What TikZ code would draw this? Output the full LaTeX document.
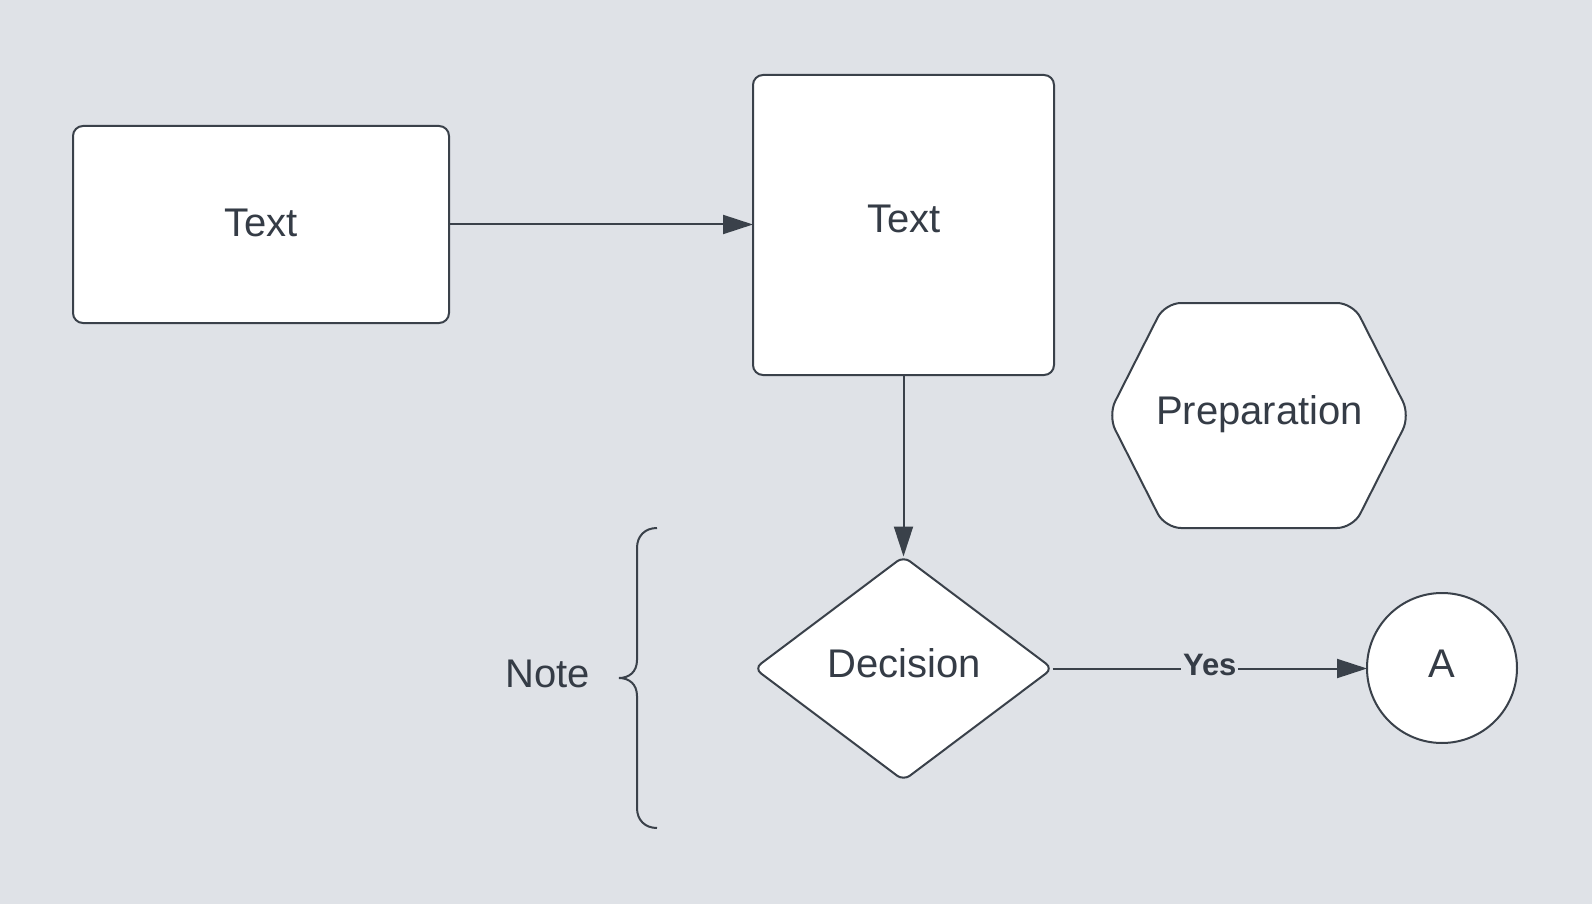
\documentclass[tikz,border=0pt]{standalone}
\usepackage{fontspec}
\setmainfont{Liberation Sans}
\usetikzlibrary{shapes.geometric,arrows.meta}
\definecolor{bg}{HTML}{DFE2E7}
\definecolor{ink}{HTML}{3A414A}
\definecolor{txt}{HTML}{353C46}
\begin{document}
\begin{tikzpicture}[x=0.5pt,y=-0.5pt,
  shapebox/.style={draw=ink,fill=white,line width=1pt,rounded corners=5pt,inner sep=0pt,outer sep=0pt},
  lbl/.style={anchor=base,inner sep=0pt,text=txt,font=\fontsize{20pt}{24pt}\selectfont},
  conn/.style={draw=ink,line width=1pt,-{Triangle[length=15pt,width=9.5pt]}}
]
\fill[bg] (0,0) rectangle (1592,904);
\useasboundingbox (0,0) rectangle (1592,904);

% shapes
\node[shapebox,minimum width=188pt,minimum height=98.5pt] (b1) at (261,224.5) {};
\node[shapebox,minimum width=150.5pt,minimum height=150pt] (b2) at (903.5,225) {};
\node[shapebox,diamond,rounded corners=4pt,minimum width=149pt,minimum height=112pt] (d) at (903.5,668.5) {};
\node[shapebox,circle,minimum size=75pt] (c) at (1442,668) {};
\draw[shapebox,rounded corners=8pt] (1108,415.5) -- (1165,303) -- (1353,303) -- (1410,415.5) -- (1353,528) -- (1165,528) -- cycle;

% texts
\node[lbl] (t1) at (261,236.7) {Text};
\node[lbl] (t2) at (904,233) {Text};
\node[lbl] (tp) at (1259.5,424) {Preparation};
\node[lbl] (td) at (904,677) {Decision};
\node[lbl] (ta) at (1442,677) {A};
\node[lbl] (tn) at (547.5,687) {Note};

% connectors
\draw[conn] (b1.east) -- (b1.east -| b2.west);
\draw[conn] (b2.south) -- (b2.south |- d.north);
\draw[conn] (d.east) -- node[midway,anchor=base,yshift=-3.25pt,fill=bg,inner sep=1pt,text=txt,font=\fontsize{15.5pt}{18pt}\bfseries\selectfont] (yes) {Yes} (d.east -| c.west);

% brace
\draw[ink,line width=1pt] (657,528) .. controls (645,528) and (637,536) .. (637,548) -- (637,660)
  .. controls (637,672) and (629,678) .. (619,678)
  .. controls (629,678) and (637,684) .. (637,696) -- (637,808)
  .. controls (637,820) and (645,828) .. (657,828);
\end{tikzpicture}
\end{document}
